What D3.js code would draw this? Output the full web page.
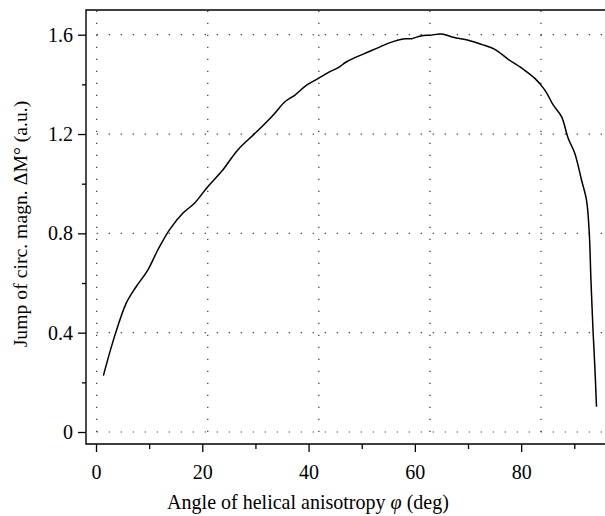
<!DOCTYPE html>
<html>
<head>
<meta charset="utf-8">
<script src="https://cdn.jsdelivr.net/npm/d3@7"></script>
<style>
  body { margin: 0; background: #fff; }
  svg { display: block; font-family: "Liberation Serif", "DejaVu Serif", serif; }
</style>
</head>
<body>
<svg></svg>
<script>
var width = 605,
    height = 516;
var svg = d3.select("svg")
    .attr("width", width)
    .attr("height", height);

// data
var angle = [1.2, 3.2, 5.3, 7.1, 9.2, 11, 13.1, 15.5, 17.6, 20, 22.7, 25.4, 28.8, 31.8,
    33.9, 35.7, 37.8, 39.9, 42, 43.5, 45, 48, 50.4, 52.8, 55.2, 56.7, 58.5, 60, 62.1,
    64.2, 67.2, 69.3, 71.7, 74.1, 76.8, 78.9, 80.7, 82.2, 83.7, 84.9, 86.1, 87.3, 88.2,
    88.7, 89, 89.4, 89.7, 90];
var jump = [0.227, 0.384, 0.518, 0.585, 0.652, 0.733, 0.814, 0.881, 0.921, 0.988, 1.055,
    1.136, 1.209, 1.277, 1.33, 1.357, 1.397, 1.424, 1.451, 1.467, 1.491, 1.522, 1.545,
    1.568, 1.583, 1.584, 1.596, 1.598, 1.603, 1.59, 1.576, 1.561, 1.541, 1.501, 1.461,
    1.424, 1.377, 1.317, 1.27, 1.183, 1.122, 1.015, 0.934, 0.8, 0.612, 0.397, 0.263, 0.102];

var xTicks = [0, 20, 40, 60, 80],
    xMinor = [10, 30, 50, 70, 90],
    yTicks = [0, 0.4, 0.8, 1.2, 1.6],
    yMinor = [0.2, 0.6, 1.0, 1.4],
    gridX = [0, 20, 40, 60, 80];

// note: "top" is taken by window.top, so use other names
var mLeft = 86, mTop = 10, mBottom = 444;

// the grid and the curve sit on a slightly wider scale than the axis ticks
var x = d3.scaleLinear().domain([0, 90]).range([96.7, 596.5]);
var xAxisScale = d3.scaleLinear().domain([0, 90]).range([96, 574.3]);
var y = d3.scaleLinear().domain([0, 1.6]).range([432, 34.7]);

//grid
var grid = svg.append("g")
    .attr("stroke", "#333")
    .attr("stroke-width", 1.2)
    .attr("stroke-dasharray", "1.2,10.8");
grid.selectAll(".gx")
    .data(gridX)
    .enter()
    .append("line")
    .attr("x1", d => x(d))
    .attr("x2", d => x(d))
    .attr("y1", y(0))
    .attr("y2", mTop);
grid.selectAll(".gy")
    .data(yTicks)
    .enter()
    .append("line")
    .attr("x1", x(0))
    .attr("x2", width)
    .attr("y1", d => y(d))
    .attr("y2", d => y(d));

//frame
svg.append("path")
    .attr("d", "M" + width + "," + mTop + "H" + mLeft + "V" + mBottom + "H" + width)
    .attr("fill", "none")
    .attr("stroke", "#000")
    .attr("stroke-width", 1.4);

//axes
svg.append("g")
    .attr("transform", "translate(0," + mBottom + ")")
    .call(d3.axisBottom(xAxisScale).tickValues(xTicks).tickSize(8).tickPadding(13).tickFormat(d3.format("d")));
svg.append("g")
    .attr("transform", "translate(0," + mBottom + ")")
    .call(d3.axisBottom(xAxisScale).tickValues(xMinor).tickSize(5).tickFormat(""));

svg.append("g")
    .attr("transform", "translate(" + mLeft + ",0)")
    .call(d3.axisLeft(y).tickValues(yTicks).tickSize(8).tickPadding(5)
        .tickFormat(d => d === 0 ? "0" : d3.format(".1f")(d)));
svg.append("g")
    .attr("transform", "translate(" + mLeft + ",0)")
    .call(d3.axisLeft(y).tickValues(yMinor).tickSize(4).tickFormat(""));

svg.selectAll(".domain").remove();
svg.selectAll(".tick line").attr("stroke", "#000").attr("stroke-width", 1.3);
svg.selectAll(".tick text")
    .attr("font-family", "Liberation Serif, DejaVu Serif, serif")
    .attr("font-size", 20)
    .attr("fill", "#000");

//curve
var line = d3.line()
    .x((d, i) => x(angle[i]))
    .y(d => y(d))
    .curve(d3.curveCatmullRom);
svg.append("path")
    .datum(jump)
    .attr("d", line)
    .attr("fill", "none")
    .attr("stroke", "#000")
    .attr("stroke-width", 1.5);

//labels, sized to span the same width as in the picture
function fit(sel, target) {
    var w = sel.node().getComputedTextLength();
    sel.attr("font-size", 18 * target / w);
}
var xTitle = svg.append("text")
    .attr("x", 308)
    .attr("y", 509)
    .attr("text-anchor", "middle")
    .attr("font-size", 18)
    .html("Angle of helical anisotropy <tspan font-style='italic'>φ</tspan> (deg)");
fit(xTitle, 282);

var yTitle = svg.append("text")
    .attr("transform", "translate(27,224) rotate(-90)")
    .attr("text-anchor", "middle")
    .attr("font-size", 18)
    .text("Jump of circ. magn. ΔM° (a.u.)");
fit(yTitle, 247);
</script>
</body>
</html>
